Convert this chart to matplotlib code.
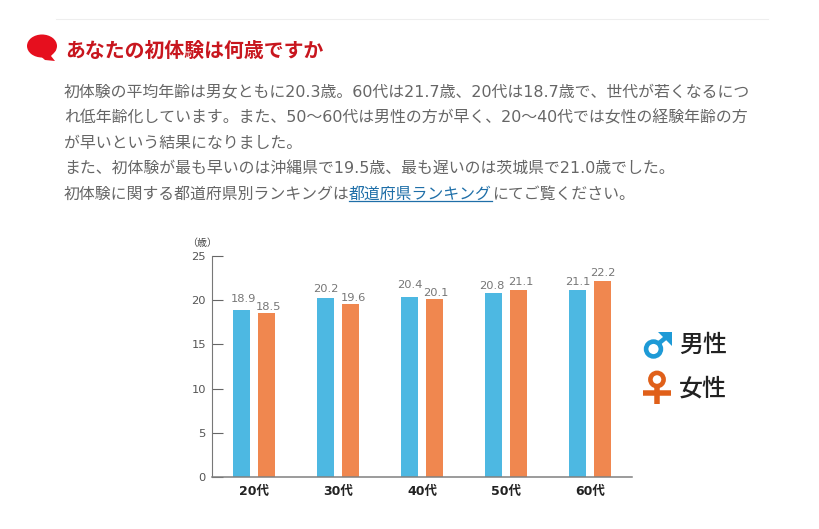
import matplotlib
matplotlib.use("Agg")
import matplotlib.pyplot as plt
from matplotlib.patches import Circle, Ellipse, Polygon

JP = ['Noto Sans CJK JP', 'DejaVu Sans']
WIDE = ['DejaVu Sans', 'Noto Sans CJK JP']
plt.rcParams['font.family'] = JP

# ---- data ----
categories = ['20代', '30代', '40代', '50代', '60代']
male = [18.9, 20.2, 20.4, 20.8, 21.1]
female = [18.5, 19.6, 20.1, 21.1, 22.2]
yticks = [0, 5, 10, 15, 20, 25]

title = 'あなたの初体験は何歳ですか'
body_lines = [
    '初体験の平均年齢は男女ともに20.3歳。60代は21.7歳、20代は18.7歳で、世代が若くなるにつ',
    'れ低年齢化しています。また、50～60代は男性の方が早く、20～40代では女性の経験年齢の方',
    'が早いという結果になりました。',
    'また、初体験が最も早いのは沖縄県で19.5歳、最も遅いのは茨城県で21.0歳でした。',
]
last_a, last_link, last_b = ('初体験に関する都道府県別ランキングは', '都道府県ランキング', 'にてご覧ください。')

# ---- layout / style ----
W, H = 820, 529
BLUE, ORANGE = '#4DB8E2', '#F0874F'
px = 72 / 100  # points per pixel at dpi 100
male_off = [(1.7, 11), (0, 9), (0, 11.7), (-2, 7), (0, 8.5)]
female_off = [(2, 6.5), (3, 6), (1, 6.6), (2.3, 8.5), (0, 7.5)]

fig = plt.figure(figsize=(W / 100, H / 100), dpi=100, facecolor='white')

# full-page layer in pixel coordinates for the surrounding page elements
bg = fig.add_axes([0, 0, 1, 1])
bg.set_xlim(0, W)
bg.set_ylim(H, 0)
bg.axis('off')

bg.plot([56, 768], [19, 19], color='#EEEEEE', lw=0.8)

# speech bubble
bg.add_patch(Ellipse((42, 46), 30, 23, color='#E60F1E', lw=0))
bg.add_patch(Polygon([[38, 54], [56, 50], [51, 56], [55, 61], [45, 60]], closed=True, color='#E60F1E', lw=0))
bg.text(65, 50, title, fontsize=19.9 * px, fontweight='bold', color='#C8161E', va='center', ha='left')

body_y = [93, 118, 143, 168]
for y, line in zip(body_y, body_lines):
    bg.text(64, y, line, fontsize=15.9 * px, color='#666666', va='center', ha='left', family=WIDE)
bg.text(64, 194, last_a, fontsize=15.9 * px, color='#666666', va='center', ha='left')
bg.text(349, 194, last_link, fontsize=15.9 * px, color='#1F6FA8', va='center', ha='left')
bg.plot([349, 492], [201, 201], color='#1F6FA8', lw=0.9)
bg.text(492, 194, last_b, fontsize=15.9 * px, color='#666666', va='center', ha='left')

bg.text(202, 243, '（歳）', fontsize=10 * px, color='#444444', va='center', ha='center')

# legend symbols
M, F = '#1E9AD6', '#E0601A'
bg.add_patch(Circle((653.5, 349), 7.4, fill=False, ec=M, lw=4.6 * px))
bg.plot([658, 669], [344, 335], color=M, lw=4.5 * px, solid_capstyle='butt')
bg.add_patch(Polygon([[658, 332], [672, 332], [672, 346], [667, 341], [663, 337]], closed=True, color=M, lw=0))
bg.add_patch(Circle((657, 379.5), 6.6, fill=False, ec=F, lw=4.6 * px))
bg.plot([657, 657], [386, 404], color=F, lw=5.5 * px, solid_capstyle='butt')
bg.plot([643, 671], [393, 393], color=F, lw=5.5 * px, solid_capstyle='butt')
bg.text(679, 345, '男性', fontsize=24 * px, color='#222222', va='center', ha='left', fontweight='medium')
bg.text(679, 389, '女性', fontsize=24 * px, color='#222222', va='center', ha='left', fontweight='medium')

# chart
ax = fig.add_axes([212 / W, (H - 477) / H, 420 / W, 221 / H])
ax.patch.set_alpha(0)
xs = list(range(len(categories)))
offset, width = 0.149, 0.21
ax.bar([x - offset for x in xs], male, width, color=BLUE)
ax.bar([x + offset for x in xs], female, width, color=ORANGE)
ax.set_xlim(-0.5, 4.5)
ax.set_ylim(0, 25)

for x, v, off in zip(xs, male, male_off):
    ax.annotate(f'{v:.1f}', (x - offset, v), xytext=(off[0] * px, off[1] * px), textcoords='offset points',
                ha='center', va='center', fontsize=11.5 * px, color='#777777', family='DejaVu Sans')
for x, v, off in zip(xs, female, female_off):
    ax.annotate(f'{v:.1f}', (x + offset, v), xytext=(off[0] * px, off[1] * px), textcoords='offset points',
                ha='center', va='center', fontsize=11.5 * px, color='#777777', family='DejaVu Sans')

for s in ('top', 'right'):
    ax.spines[s].set_visible(False)
ax.spines['left'].set_color('#777777')
ax.spines['left'].set_linewidth(0.8)
ax.spines['bottom'].set_color('#808080')
ax.spines['bottom'].set_linewidth(1.1)

ax.set_yticks(yticks)
ax.set_yticklabels([str(t) for t in yticks], fontsize=11.5 * px, color='#555555', family='DejaVu Sans')
ax.tick_params(axis='y', direction='in', length=11 * px, width=0.8, color='#666666', pad=6 * px)
ax.set_xticks(xs)
ax.set_xticklabels(categories, fontsize=12.5 * px, color='#222222', fontweight='bold', family=WIDE)
ax.tick_params(axis='x', length=0, pad=8 * px)

fig.savefig('out.png', dpi=100, facecolor='white')
